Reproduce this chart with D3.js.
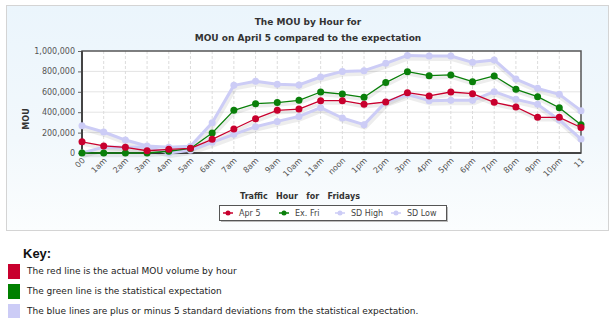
<!DOCTYPE html>
<html>
<head>
<meta charset="utf-8">
<script src="https://cdn.jsdelivr.net/npm/d3@7"></script>
<style>
  html, body { margin: 0; padding: 0; background: #fff; }
  svg { display: block; }
</style>
</head>
<body>
<svg id="chart" width="614" height="318"></svg>
<script>
/* ── Data ─────────────────────────────────────────────────────── */
const hours = ["00", "1am", "2am", "3am", "4am", "5am", "6am", "7am", "8am", "9am",
  "10am", "11am", "noon", "1pm", "2pm", "3pm", "4pm", "5pm", "6pm", "7pm", "8pm",
  "9pm", "10pm", "11"];
const apr5   = [110000, 69000, 56000, 22000, 36000, 46000, 134000, 235000, 336000, 418000,
  431000, 513000, 513000, 477000, 500000, 591000, 559000, 598000, 582000, 497000, 451000,
  350000, 350000, 250000];
const exFri  = [0, 0, 0, 0, 17000, 45000, 196000, 418000, 484000, 494000,
  516000, 598000, 578000, 546000, 690000, 797000, 758000, 765000, 699000, 755000, 624000,
  552000, 444000, 278000];
const sdHigh = [268000, 206000, 127000, 69000, 56000, 65000, 297000, 663000, 703000, 673000,
  667000, 745000, 800000, 807000, 879000, 957000, 951000, 951000, 889000, 912000, 725000,
  634000, 575000, 415000];
const sdLow  = [0, 58000, 56000, 60000, 0, 28000, 105000, 183000, 258000, 310000,
  359000, 444000, 343000, 278000, 500000, 575000, 513000, 516000, 516000, 601000, 526000,
  477000, 324000, 137000];
const yTicks = [0, 200000, 400000, 600000, 800000, 1000000];

const keyRows = [
  { color: "#c8002e", text: "The red line is the actual MOU volume by hour" },
  { color: "#008000", text: "The green line is the statistical expectation" },
  { color: "#ccccf6", text: "The blue lines are plus or minus 5 standard deviations from the statistical expectation." },
];

/* ── Setup ────────────────────────────────────────────────────── */
const RED = "#c8002e", GREEN = "#0a7f0a", LAV = "#ccccf6";
const svg = d3.select("#chart");
const plot = { left: 82, right: 581, top: 51, bottom: 153 };

const x = d3.scalePoint().domain(hours).range([plot.left, plot.right]);
const y = d3.scaleLinear().domain([0, 1000000]).range([plot.bottom, plot.top]);

/* card background */
const defs = svg.append("defs");
const grad = defs.append("linearGradient").attr("id", "card").attr("x1", 0).attr("y1", 0).attr("x2", 0).attr("y2", 1);
grad.append("stop").attr("offset", "0%").attr("stop-color", "#ebf5fc");
grad.append("stop").attr("offset", "60%").attr("stop-color", "#f2f8fc");
grad.append("stop").attr("offset", "100%").attr("stop-color", "#fbfdfe");

svg.append("rect")
  .attr("x", 6.5).attr("y", 5.5).attr("width", 602).attr("height", 225)
  .attr("fill", "url(#card)").attr("stroke", "#d4d4d4");

/* titles */
const title = svg.append("g")
  .attr("font-family", "'DejaVu Sans', Verdana, sans-serif")
  .attr("font-weight", "bold").attr("font-size", 9).attr("fill", "#333")
  .attr("text-anchor", "middle");
title.append("text").attr("x", 308).attr("y", 25).text("The MOU by Hour for");
title.append("text").attr("x", 308).attr("y", 41).text("MOU on April 5 compared to the expectation");

/* plot area */
svg.append("rect")
  .attr("x", plot.left).attr("y", plot.top)
  .attr("width", plot.right - plot.left).attr("height", plot.bottom - plot.top)
  .attr("fill", "#fff");

/* grid */
svg.append("g")
  .selectAll("line").data(yTicks.slice(1, -1)).join("line")
  .attr("x1", plot.left).attr("x2", plot.right)
  .attr("y1", d => y(d)).attr("y2", d => y(d))
  .attr("stroke", "#e4e4e4");
svg.append("g")
  .selectAll("line").data(hours.slice(1, -1)).join("line")
  .attr("x1", d => x(d)).attr("x2", d => x(d))
  .attr("y1", plot.top).attr("y2", plot.bottom)
  .attr("stroke", "#dcdcdc").attr("stroke-dasharray", "3,2");

/* y axis */
const yAxis = svg.append("g")
  .attr("transform", `translate(${plot.left},0)`)
  .call(d3.axisLeft(y).tickValues(yTicks).tickSize(4).tickFormat(d3.format(",")));
yAxis.select(".domain").remove();
yAxis.selectAll("line").attr("stroke", "#666");
yAxis.selectAll("text")
  .attr("font-family", "'DejaVu Sans', Verdana, sans-serif")
  .attr("font-size", 8).attr("fill", "#555").attr("dx", 0);

/* x axis */
const xAxis = svg.append("g")
  .attr("transform", `translate(0,${plot.bottom})`)
  .call(d3.axisBottom(x).tickSize(0).tickPadding(0));
xAxis.select(".domain").remove();
xAxis.selectAll("text")
  .attr("font-family", "'DejaVu Sans', Verdana, sans-serif")
  .attr("font-size", 8).attr("fill", "#555")
  .attr("text-anchor", "end").attr("dy", 0)
  .attr("transform", "translate(3,8) rotate(-45)");

/* plot frame */
svg.append("rect")
  .attr("x", plot.left).attr("y", plot.top)
  .attr("width", plot.right - plot.left).attr("height", plot.bottom - plot.top)
  .attr("fill", "none").attr("stroke", "#555").attr("stroke-width", 1.5);
svg.append("line")
  .attr("x1", plot.left).attr("x2", plot.right)
  .attr("y1", plot.bottom).attr("y2", plot.bottom)
  .attr("stroke", "#444").attr("stroke-width", 2);
svg.append("line")
  .attr("x1", plot.left).attr("x2", plot.left)
  .attr("y1", plot.top).attr("y2", plot.bottom)
  .attr("stroke", "#444").attr("stroke-width", 2);

/* axis titles */
svg.append("text")
  .attr("transform", "translate(29,119) rotate(-90)")
  .attr("text-anchor", "middle")
  .attr("font-family", "'DejaVu Sans', Verdana, sans-serif")
  .attr("font-weight", "bold").attr("font-size", 8).attr("fill", "#333")
  .text("MOU");
svg.append("text")
  .attr("x", 300).attr("y", 199)
  .attr("text-anchor", "middle").attr("xml:space", "preserve")
  .style("white-space", "pre")
  .attr("font-family", "'DejaVu Sans', Verdana, sans-serif")
  .attr("font-weight", "bold").attr("font-size", 8).attr("fill", "#333")
  .text("Traffic   Hour   for   Fridays");

/* ── Series ───────────────────────────────────────────────────── */
const series = [
  { name: "SD High", values: sdHigh, color: LAV, width: 3, r: 3.5 },
  { name: "SD Low",  values: sdLow,  color: LAV, width: 3, r: 3.5 },
  { name: "Ex. Fri", values: exFri,  color: GREEN, width: 1.3, r: 3.5 },
  { name: "Apr 5",   values: apr5,   color: RED, width: 1.3, r: 3.5 },
];

const line = d3.line().x((d, i) => x(hours[i])).y(d => y(d));

const plotG = svg.append("g");
/* soft shadows first */
plotG.selectAll("path.shadow").data(series).join("path")
  .attr("class", "shadow")
  .attr("d", s => line(s.values))
  .attr("transform", "translate(1,2.5)")
  .attr("fill", "none").attr("stroke", "#000").attr("stroke-opacity", 0.07)
  .attr("stroke-width", s => s.width + 2).attr("stroke-linejoin", "round");

const sG = plotG.selectAll("g.series").data(series).join("g").attr("class", "series");
sG.append("path")
  .attr("d", s => line(s.values))
  .attr("fill", "none").attr("stroke", s => s.color)
  .attr("stroke-width", s => s.width).attr("stroke-linejoin", "round");
sG.selectAll("circle").data(s => s.values.map(v => ({ v, s }))).join("circle")
  .attr("cx", (d, i) => x(hours[i])).attr("cy", d => y(d.v))
  .attr("r", d => d.s.r).attr("fill", d => d.s.color);

/* ── Legend ───────────────────────────────────────────────────── */
svg.append("rect").attr("x", 221).attr("y", 207).attr("width", 227).attr("height", 15)
  .attr("fill", "#bbb");
svg.append("rect").attr("x", 219.5).attr("y", 205.5).attr("width", 227).attr("height", 15)
  .attr("fill", "#fff").attr("stroke", "#555");

const legendItems = [
  { name: "Apr 5",   color: RED,   x: 223 },
  { name: "Ex. Fri", color: GREEN, x: 279 },
  { name: "SD High", color: LAV,   x: 335 },
  { name: "SD Low",  color: LAV,   x: 391 },
];
const lg = svg.append("g").selectAll("g").data(legendItems).join("g")
  .attr("transform", d => `translate(${d.x},213)`);
lg.append("line").attr("x1", 0).attr("x2", 10).attr("stroke", d => d.color).attr("stroke-width", 1.5);
lg.append("circle").attr("cx", 5).attr("r", 2.5).attr("fill", d => d.color);
lg.append("text").attr("x", 16).attr("y", 3)
  .attr("font-family", "'DejaVu Sans', Verdana, sans-serif")
  .attr("font-size", 8).attr("fill", "#444")
  .text(d => d.name);

/* ── Key ──────────────────────────────────────────────────────── */
svg.append("text").attr("x", 23).attr("y", 258)
  .attr("font-family", "'Liberation Sans', Arial, sans-serif")
  .attr("font-weight", "bold").attr("font-size", 13).attr("fill", "#111")
  .text("Key:");
const kr = svg.append("g").selectAll("g").data(keyRows).join("g")
  .attr("transform", (d, i) => `translate(0,${264 + i * 20})`);
kr.append("rect").attr("x", 8).attr("y", 0).attr("width", 12).attr("height", 15)
  .attr("fill", d => d.color);
kr.append("text").attr("x", 27).attr("y", 10)
  .attr("font-family", "'DejaVu Sans', Verdana, sans-serif")
  .attr("font-size", 9).attr("fill", "#222")
  .text(d => d.text);
</script>
</body>
</html>
